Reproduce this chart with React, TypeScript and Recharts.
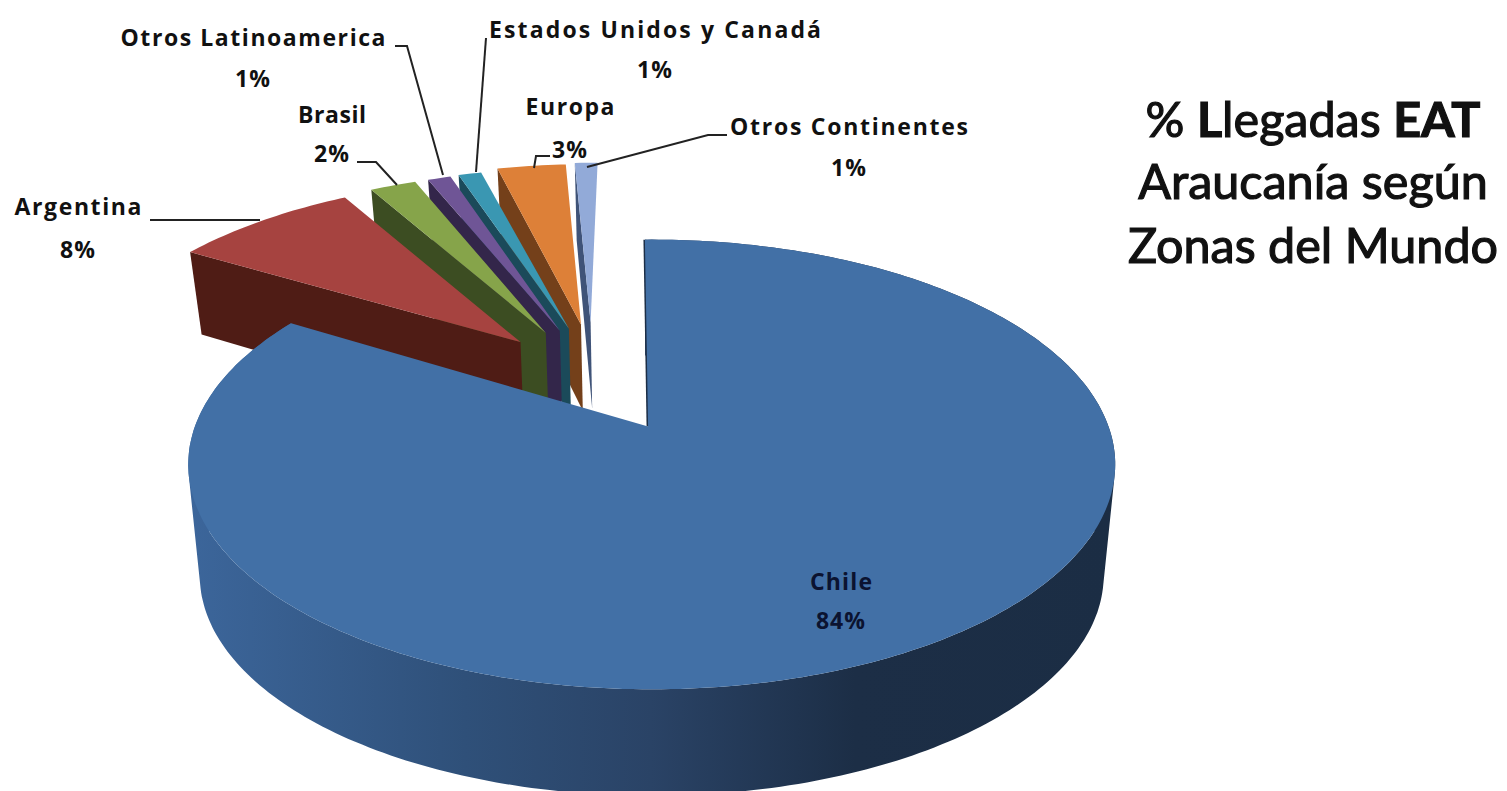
import { PieChart, Pie } from 'recharts';

// listed back to front, because the 3D slices have to overlap in this order
const zonas = ['Otros Continentes', 'Europa', 'Estados Unidos y Canadá', 'Otros Latinoamerica', 'Brasil', 'Argentina', 'Chile'];
const llegadas = [1, 3, 1, 1, 2, 8, 84];
const explosion = [0.25, 0.24, 0.22, 0.215, 0.215, 0.21, 0.31];
// small corrections in degrees: direction of the explosion and lean of the slice
const explodeTurn = [4.5, 6.5, 7, 4.5, 0.7, -1, -1.5];
const lean = [-0.2, -0.3, -1.2, -1.2, -1.3, -1.8, 0];
const topColors = ['#92aad8', '#dd8038', '#3a97b2', '#6f5596', '#86a44a', '#a64340', '#4270a6'];
const sideColors = ['#3f5378', '#74401a', '#1b4a5a', '#33264a', '#3c4d22', '#4f1c15', 'url(#chileSide)'];

const chartData = zonas.map((name, i) => ({ name, value: llegadas[i], fill: topColors[i] }));

// label layout: x, baselines of name and percent, width of name, leader line points
const labelPos: Record<string, { x: number; y1: number; y2: number; w: number; line?: string; color?: string }> = {
  'Otros Continentes': { x: 849, y1: 135, y2: 176, w: 238, line: '727,135 708,135 587,167' },
  Europa: { x: 570, y1: 115, y2: 158, w: 89, line: '550,156 536,156 534,168' },
  'Estados Unidos y Canadá': { x: 655, y1: 38, y2: 78, w: 332, line: '486,38 476,172' },
  'Otros Latinoamerica': { x: 253, y1: 46, y2: 87, w: 265, line: '395,46 407,46 443,175' },
  Brasil: { x: 332, y1: 123, y2: 162, w: 68, line: '357,162 376,162 397,185' },
  Argentina: { x: 78, y1: 215, y2: 258, w: 127, line: '150,220 260,220' },
  Chile: { x: 841, y1: 590, y2: 629, w: 62, color: '#0b1330' },
};

// perspective of the disc plane, fitted to the picture
const X0 = 652;
const Y0 = 427;
const RX = 457;
const RY = 218.6;
const K = 0.169;
const BASE = { u: -0.157, v: 0.27 };
// underside of the disc: the big Chile slice sits deeper than the small back ones
const DEPTH_BACK = 92;
const RY_BACK = RY + 12;
const DEPTH_CHILE = 112;
const RY_CHILE = 214;
const CHILE_APEX_SHIFT = -0.008;

const project = (u: number, v: number, bottom: boolean, isChile: boolean) => {
  const s = 1 / (1 + K * v);
  if (!bottom) return [X0 + RX * u * s, Y0 - RY * v * s];
  return [
    X0 + RX * 0.975 * u * s,
    Y0 + (isChile ? DEPTH_CHILE : DEPTH_BACK) - (isChile ? RY_CHILE : RY_BACK) * v * s,
  ];
};

const rad = (d: number) => (d * Math.PI) / 180;
const toPath = (pts: number[][]) => 'M' + pts.map((p) => p[0].toFixed(1) + ',' + p[1].toFixed(1)).join('L') + 'Z';

// the wall of the disc as one path of quads, all wound the same way so the fill has no holes
const wallPath = (topArc: number[][], botArc: number[][]) => {
  let d = '';
  for (let i = 0; i < topArc.length - 1; i++) {
    const quad = [topArc[i], topArc[i + 1], botArc[i + 1], botArc[i]];
    let area = 0;
    quad.forEach((p, j) => {
      const q = quad[(j + 1) % 4];
      area += p[0] * q[1] - q[0] * p[1];
    });
    d += toPath(area < 0 ? quad.reverse() : quad);
  }
  return d;
};

function Slice3D(props: any) {
  const { startAngle, endAngle, index } = props;
  const isChile = zonas[index] === 'Chile';
  // recharts angles run counter-clockwise from 3 o'clock
  let t1 = 90 - Math.max(startAngle, endAngle) + lean[index];
  let t2 = 90 - Math.min(startAngle, endAngle) + lean[index];
  const mid = (t1 + t2) / 2 + explodeTurn[index];
  const ou = BASE.u + explosion[index] * Math.sin(rad(mid));
  const ov = BASE.v + explosion[index] * Math.cos(rad(mid));
  if (isChile) {
    // the cut edges of Chile sit a little to the left of its share
    t1 -= 1;
    t2 -= 1.5;
  }

  const angles: number[] = [];
  for (let a = t1; a < t2; a += 1) angles.push(a);
  angles.push(t2);
  const arc = (bottom: boolean) =>
    angles.map((a) => project(ou + Math.sin(rad(a)), ov + Math.cos(rad(a)), bottom, isChile));

  const topArc = arc(false);
  const botArc = arc(true);

  if (isChile) {
    const apexTop = project(ou + CHILE_APEX_SHIFT, ov, false, true);
    return (
      <g>
        <defs>
          <linearGradient id="chileSide" gradientUnits="userSpaceOnUse" x1={187} x2={1115} y1={0} y2={0}>
            <stop offset="0" stopColor="#3c669b" />
            <stop offset="0.3" stopColor="#2f5079" />
            <stop offset="0.5" stopColor="#2a4366" />
            <stop offset="0.72" stopColor="#1c2e46" />
            <stop offset="1" stopColor="#1b2d44" />
          </linearGradient>
        </defs>
        <path d={wallPath(topArc, botArc)} fill={sideColors[index]} />
        <line x1={apexTop[0]} y1={apexTop[1]} x2={topArc[0][0]} y2={topArc[0][1]} stroke="#1c2e46" strokeWidth={3} />
        <path d={toPath([apexTop, ...topArc])} fill={topColors[index]} />
      </g>
    );
  }

  // only the cut face on the left of a back slice can be seen
  const apexTop = project(ou, ov, false, false);
  const apexBot = project(ou, ov, true, false);
  return (
    <g>
      <path d={toPath([apexTop, topArc[0], botArc[0], apexBot])} fill={sideColors[index]} />
      <path d={toPath([apexTop, ...topArc])} fill={topColors[index]} />
    </g>
  );
}

function SliceLabel(props: any) {
  const { name, value } = props;
  const pos = labelPos[name];
  const color = pos.color || '#111';
  return (
    <g fontFamily="'Open Sans', sans-serif" fontWeight={700} fontSize={23} fill={color} textAnchor="middle">
      {pos.line && <polyline points={pos.line} fill="none" stroke="#222" strokeWidth={2} />}
      <text x={pos.x} y={pos.y1} textLength={pos.w}>{name}</text>
      <text x={pos.x} y={pos.y2} letterSpacing={1}>{value}%</text>
    </g>
  );
}

export default function App() {
  return (
    <div style={{ position: 'absolute', left: 0, top: 0, width: 1507, height: 791, overflow: 'hidden', background: '#fff' }}>
      <PieChart width={1507} height={791} margin={{ top: 0, right: 0, bottom: 0, left: 0 }}>
        <Pie
          data={chartData}
          dataKey="value"
          nameKey="name"
          cx={650}
          cy={427}
          outerRadius={200}
          startAngle={90}
          endAngle={450}
          paddingAngle={0}
          stroke="none"
          isAnimationActive={false}
          shape={Slice3D}
          label={SliceLabel}
          labelLine={false}
        />
        <text x={1313} textAnchor="middle" fontFamily="Lato, sans-serif" fontSize={48.5} fill="#111" stroke="#111" strokeWidth={1.2}>
          <tspan x={1313} y={137}>% <tspan fontWeight={700}>L</tspan>legadas <tspan fontWeight={700}>EAT</tspan></tspan>
          <tspan x={1313} y={199}>Araucanía según</tspan>
          <tspan x={1313} y={263}>Zonas del Mundo</tspan>
        </text>
      </PieChart>
    </div>
  );
}
